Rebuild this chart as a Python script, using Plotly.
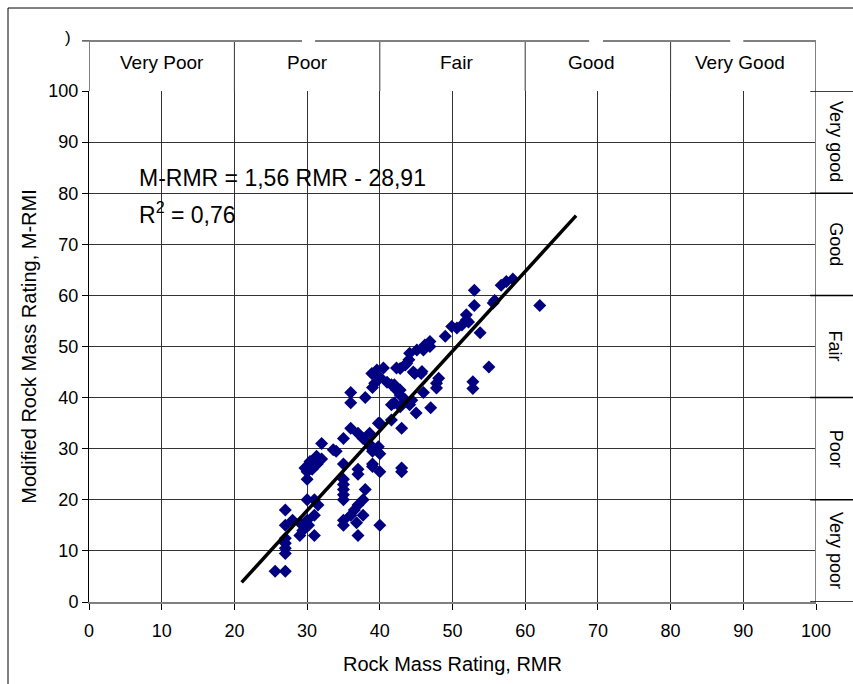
import plotly.graph_objects as go

# ---- data ----
points = [
    (25.6, 6), (27, 6),
    (27, 9.5), (27, 10.5), (27, 11.5), (27, 12.5),
    (27, 15), (27, 18), (28, 16),
    (29, 13), (29.4, 14), (30.2, 15), (30, 16), (29, 15.5),
    (31, 13), (31, 17), (31.5, 19),
    (30, 20), (31, 20),
    (30, 24), (30, 25.5), (30.7, 26), (31.4, 27), (32, 28),
    (34, 29.5), (32, 31), (35, 32),
    (35, 27), (35, 24), (35, 23), (35, 22), (35, 21), (35, 20),
    (35, 16), (35, 15), (36, 17), (36.5, 18), (37, 19), (37.7, 20), (38, 22), (37.7, 17), (36.8, 15.5),
    (37, 13), (40, 15),
    (37, 25), (37, 26), (39, 27), (40, 25.5), (39, 26.5), (43, 25.5), (43, 26.2),
    (36, 34), (37, 33), (37.7, 32), (38.5, 31), (39, 30), (39.8, 30.4), (40, 29), (38.6, 33), (39.8, 35), (39, 29.5),
    (36, 41), (36, 39), (38, 40), (39, 42), (39.6, 45.4), (38.9, 44.7), (40, 44), (39.3, 42.8), (40.5, 45.8),
    (41, 43), (42, 42.5), (42.8, 41.5), (42.8, 45.7), (43.7, 46.7), (44.8, 44.7), (45.8, 45.1), (44.1, 48.7),
    (45.1, 49.3), (46.2, 50.3), (46.9, 51),
    (42, 39), (42.8, 38.2), (43.7, 39.2), (44.4, 39.5), (45, 37), (46, 41), (47, 38), (47.8, 42.8), (47.8, 41.9), (48.1, 43.8),
    (40, 35), (41.6, 35.6), (43, 34),
    (41.6, 42.5), (42.3, 41.5), (42.8, 40.5), (43.5, 39.6), (44.1, 38.6), (41.6, 38.6),
    (42.3, 45.8), (43.5, 46.4), (44, 47.4), (44.6, 45), (45.7, 44.7), (46, 49.3), (46.9, 50),
    (49, 52), (49.9, 53.9), (50.6, 53.6), (51.3, 54.2), (51.9, 55.2), (51.9, 56.2), (52.2, 54.8),
    (53.8, 52.7), (53, 58), (53, 61), (55.8, 59), (55.6, 58.5), (56.7, 62), (57.4, 62.7), (58.3, 63.2),
    (62, 58), (55, 46), (52.8, 43.1), (52.8, 41.8),
    (30.4, 27.5), (29.7, 26.2), (33.6, 29.8), (31.3, 28.5),
]
rmr = [p[0] for p in points]
mrmr = [p[1] for p in points]

fit_x = [21, 67]
slope, intercept = 1.56, -28.91
fit_y = [slope * x + intercept for x in fit_x]

tick_vals = list(range(0, 101, 10))

top_classes = ["Very Poor", "Poor", "Fair", "Good", "Very Good"]
top_class_pos = [10, 30, 50.5, 69, 89.5]
top_class_bounds = [20, 40, 60, 80]

right_classes = ["Very good", "Good", "Fair", "Poor", "Very poor"]
right_class_pos = [90, 70, 50, 30, 10]
right_class_bounds = [100, 80, 60, 40, 20, 0]

FONT = "Liberation Sans, Arial, sans-serif"

fig = go.Figure()
fig.add_trace(go.Scatter(
    x=rmr, y=mrmr, mode="markers",
    marker=dict(symbol="diamond", size=10, color="#000080", line=dict(width=0)),
    showlegend=False, cliponaxis=False,
))
fig.add_trace(go.Scatter(
    x=fit_x, y=fit_y, mode="lines",
    line=dict(color="black", width=3.5),
    showlegend=False,
))

shapes = []
band_top = 1.098
# outer frame
shapes.append(dict(type="rect", xref="paper", yref="paper", x0=-0.1114, x1=1.2, y0=-0.3, y1=1.1624,
                   line=dict(color="black", width=1), fillcolor="rgba(0,0,0,0)", layer="below"))
# top band: left edge, dividers, top line with breaks
shapes.append(dict(type="line", xref="x", yref="paper", x0=0, x1=0, y0=1, y1=band_top,
                   line=dict(color="black", width=1)))
shapes.append(dict(type="line", xref="paper", yref="paper", x0=-0.0096, x1=0, y0=band_top, y1=band_top,
                   line=dict(color="black", width=1)))
for b in top_class_bounds:
    shapes.append(dict(type="line", xref="x", yref="paper", x0=b, x1=b, y0=1, y1=band_top,
                       line=dict(color="#333333", width=1)))
for a, b in [(0, 29.3), (31.1, 68.8), (70.7, 88.2), (90, 100)]:
    shapes.append(dict(type="line", xref="x", yref="paper", x0=a, x1=b, y0=band_top, y1=band_top,
                       line=dict(color="#808080", width=2)))
# right band: left edge and separators
shapes.append(dict(type="line", xref="x", yref="paper", x0=100, x1=100, y0=-0.004, y1=band_top,
                   line=dict(color="#808080", width=2)))
for b in right_class_bounds:
    shapes.append(dict(type="line", xref="paper", yref="y", x0=0.992, x1=1.06, y0=b, y1=b,
                       line=dict(color="black", width=1.5)))

annotations = []
for name, pos in zip(top_classes, top_class_pos):
    annotations.append(dict(x=pos, y=1.055, xref="x", yref="paper", text=name, showarrow=False,
                            font=dict(family=FONT, size=19, color="black"), xanchor="center", yanchor="middle"))
for name, pos in zip(right_classes, right_class_pos):
    annotations.append(dict(x=1.0275, y=pos, xref="paper", yref="y", text=name, showarrow=False,
                            textangle=90, font=dict(family=FONT, size=18, color="black"),
                            xanchor="center", yanchor="middle"))
annotations.append(dict(x=6.6, y=83, xref="x", yref="y", text="M-RMR = 1,56 RMR - 28,91", showarrow=False,
                        font=dict(family=FONT, size=23, color="black"), xanchor="left", yanchor="middle"))
annotations.append(dict(x=6.6, y=76.2, xref="x", yref="y", text="R<sup>2</sup> = 0,76", showarrow=False,
                        font=dict(family=FONT, size=23, color="black"), xanchor="left", yanchor="middle"))
annotations.append(dict(x=-0.029, y=1.104, xref="paper", yref="paper", text=")", showarrow=False,
                        font=dict(family=FONT, size=17, color="black"), xanchor="center", yanchor="middle"))

fig.update_layout(
    width=853, height=684,
    margin=dict(l=89, r=37, t=91, b=82),
    paper_bgcolor="white", plot_bgcolor="white",
    font=dict(family=FONT, size=17, color="black"),
    shapes=shapes, annotations=annotations,
    xaxis=dict(range=[0, 100], tickvals=tick_vals, ticks="outside", ticklen=6, tickcolor="black",
               showgrid=True, gridcolor="#333333", gridwidth=1, zeroline=False,
               showline=True, linecolor="#808080", linewidth=2,
               tickfont=dict(family=FONT, size=18), ticklabelstandoff=5,
               title=dict(text="Rock Mass Rating, RMR", font=dict(family=FONT, size=20), standoff=17)),
    yaxis=dict(range=[0, 100], tickvals=tick_vals, ticks="outside", ticklen=6, tickcolor="black",
               showgrid=True, gridcolor="#333333", gridwidth=1, zeroline=False,
               showline=True, linecolor="black", linewidth=1,
               tickfont=dict(family=FONT, size=18),
               title=dict(text="Modified Rock Mass Rating, M-RMI", font=dict(family=FONT, size=20), standoff=6)),
)

fig.write_html("out.html")
